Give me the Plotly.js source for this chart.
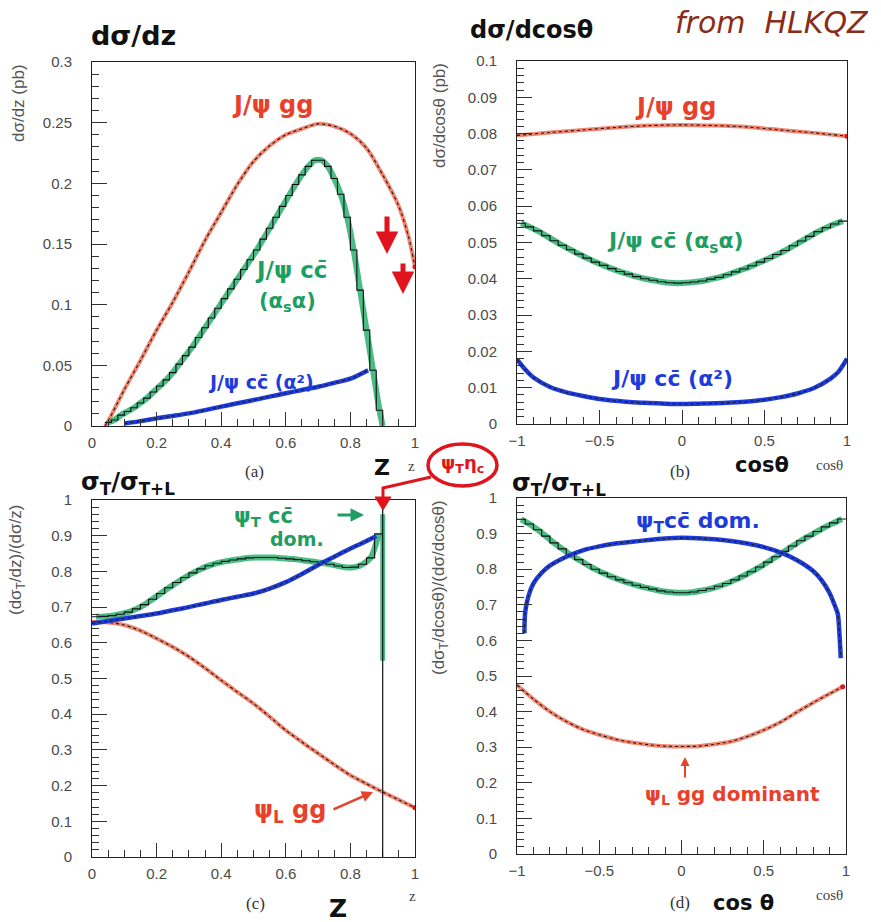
<!DOCTYPE html>
<html>
<head>
<meta charset="utf-8">
<script src="https://cdn.plot.ly/plotly-3.0.1.min.js"></script>
<style>
  html, body { margin: 0; padding: 0; background: #fff; }
  #chart { width: 881px; height: 922px; }
</style>
</head>
<body>
<div id="chart"></div>
<script>
// ---------- (a) dσ/dz ----------
const aGgZ   = [0.04, 0.05, 0.10, 0.15, 0.20, 0.25, 0.30, 0.35, 0.40, 0.45, 0.50, 0.55, 0.60, 0.65, 0.70, 0.75, 0.80, 0.85, 0.90, 0.95, 0.98, 1.00];
const aGgVal = [0.000, 0.004, 0.030, 0.054, 0.079, 0.102, 0.127, 0.153, 0.176, 0.199, 0.218, 0.231, 0.240, 0.245, 0.249, 0.247, 0.241, 0.229, 0.207, 0.181, 0.156, 0.131];

const aCcBinStart = 0.04, aCcBinWidth = 0.02;
const aCcAlphaS = [0.003, 0.005, 0.009, 0.012, 0.015, 0.019, 0.023, 0.028, 0.033, 0.038,
                   0.044, 0.051, 0.058, 0.065, 0.073, 0.081, 0.089, 0.097, 0.105, 0.113,
                   0.121, 0.129, 0.137, 0.145, 0.154, 0.163, 0.172, 0.181, 0.190, 0.199,
                   0.207, 0.214, 0.219, 0.219, 0.214, 0.204, 0.191, 0.172, 0.145, 0.112,
                   0.079, 0.046, 0.013];

const aAlpha2Z   = [0.10, 0.15, 0.20, 0.25, 0.30, 0.35, 0.40, 0.45, 0.50, 0.55, 0.60, 0.65, 0.70, 0.75, 0.80, 0.855];
const aAlpha2Val = [0.002, 0.004, 0.0063, 0.0083, 0.0104, 0.0131, 0.0160, 0.0187, 0.0214, 0.0242, 0.0270, 0.0297, 0.0324, 0.0356, 0.0390, 0.0460];

// ---------- (b) dσ/dcosθ ----------
const bGgCos = [-1.0, -0.8, -0.6, -0.4, -0.2, 0.0, 0.2, 0.4, 0.6, 0.8, 1.0];
const bGgVal = [0.0795, 0.0803, 0.0810, 0.0817, 0.0822, 0.0824, 0.0822, 0.0818, 0.0810, 0.0802, 0.0793];

const bCcBinStart = -1, bCcBinWidth = 0.05;
const bCcAlphaS = [0.0553, 0.0543, 0.0532, 0.0519, 0.0505, 0.0492, 0.0480, 0.0468, 0.0457, 0.0446,
                   0.0437, 0.0428, 0.0420, 0.0413, 0.0406, 0.0400, 0.0396, 0.0392, 0.0389, 0.0388,
                   0.0389, 0.0391, 0.0394, 0.0399, 0.0404, 0.0411, 0.0419, 0.0427, 0.0436, 0.0446,
                   0.0456, 0.0467, 0.0478, 0.0491, 0.0504, 0.0517, 0.0530, 0.0541, 0.0551, 0.0559];

const bAlpha2Cos = [-1.0, -0.95, -0.9, -0.8, -0.7, -0.6, -0.5, -0.4, -0.3, -0.2, -0.1, 0.0, 0.1, 0.2, 0.3, 0.4, 0.5, 0.6, 0.7, 0.8, 0.9, 0.95, 1.0];
const bAlpha2Val = [0.0178, 0.0150, 0.0128, 0.0102, 0.0087, 0.0077, 0.0069, 0.0064, 0.0060, 0.0058, 0.0056, 0.0055, 0.0056, 0.0057, 0.0059, 0.0062, 0.0067, 0.0074, 0.0084, 0.0099, 0.0125, 0.0145, 0.0180];

// ---------- (c) σT/σT+L versus z ----------
const cGgZ   = [0.00, 0.05, 0.10, 0.15, 0.20, 0.25, 0.30, 0.35, 0.40, 0.45, 0.50, 0.55, 0.60, 0.65, 0.70, 0.75, 0.80, 0.85, 0.90, 0.95, 1.00];
const cGgVal = [0.659, 0.657, 0.650, 0.634, 0.612, 0.588, 0.561, 0.529, 0.495, 0.462, 0.430, 0.393, 0.355, 0.322, 0.290, 0.259, 0.229, 0.205, 0.182, 0.160, 0.138];

const cCcBinStart = 0, cCcBinWidth = 0.025;
const cCcAlphaS = [0.673, 0.674, 0.676, 0.680, 0.686, 0.695, 0.707, 0.722, 0.738, 0.754,
                   0.769, 0.783, 0.796, 0.807, 0.816, 0.823, 0.828, 0.832, 0.835, 0.838,
                   0.839, 0.839, 0.839, 0.837, 0.835, 0.833, 0.830, 0.827, 0.824, 0.820,
                   0.815, 0.811, 0.812, 0.820, 0.838, 0.905];
const cEndpointZ   = [0.9, 0.9];
const cEndpointVal = [0.96, 0.55];
const zKinematicEnd = 0.9;

const cAlpha2Z   = [0.00, 0.05, 0.10, 0.15, 0.20, 0.25, 0.30, 0.35, 0.40, 0.45, 0.50, 0.55, 0.60, 0.65, 0.70, 0.75, 0.80, 0.85, 0.88];
const cAlpha2Val = [0.654, 0.661, 0.668, 0.675, 0.682, 0.691, 0.700, 0.710, 0.720, 0.729, 0.738, 0.752, 0.770, 0.793, 0.818, 0.841, 0.864, 0.885, 0.899];

// ---------- (d) σT/σT+L versus cosθ ----------
const dGgCos = [-1.0, -0.9, -0.8, -0.7, -0.6, -0.5, -0.4, -0.3, -0.2, -0.1, 0.0, 0.1, 0.2, 0.3, 0.4, 0.5, 0.6, 0.7, 0.8, 0.9, 0.98];
const dGgVal = [0.475, 0.435, 0.400, 0.372, 0.350, 0.335, 0.322, 0.313, 0.307, 0.303, 0.302, 0.303, 0.308, 0.316, 0.330, 0.348, 0.370, 0.398, 0.425, 0.450, 0.470];

const dCcBinStart = -1, dCcBinWidth = 0.05;
const dCcAlphaS = [0.940, 0.927, 0.911, 0.893, 0.874, 0.857, 0.841, 0.827, 0.813, 0.800,
                   0.789, 0.779, 0.770, 0.762, 0.755, 0.749, 0.744, 0.739, 0.736, 0.734,
                   0.734, 0.736, 0.740, 0.745, 0.752, 0.760, 0.770, 0.781, 0.793, 0.806,
                   0.820, 0.835, 0.850, 0.865, 0.880, 0.893, 0.906, 0.919, 0.930, 0.941];

const dAlpha2Cos = [-0.955, -0.95, -0.93, -0.9, -0.85, -0.8, -0.7, -0.6, -0.5, -0.4, -0.3, -0.2, -0.1, 0.0, 0.1, 0.2, 0.3, 0.4, 0.5, 0.6, 0.7, 0.8, 0.85, 0.9, 0.93, 0.95, 0.96, 0.968];
const dAlpha2Val = [0.62, 0.68, 0.725, 0.76, 0.79, 0.81, 0.835, 0.853, 0.864, 0.872, 0.877, 0.882, 0.886, 0.888, 0.887, 0.884, 0.879, 0.872, 0.862, 0.847, 0.826, 0.795, 0.77, 0.733, 0.70, 0.675, 0.62, 0.55];

// ---------- styling ----------
const RED_LINE = '#f2836d';
const RED_INK = '#e8402a';
const RED_ARROW = '#e0141c';
const GREEN_INK = 'rgba(44,176,112,0.85)';
const GREEN_TEXT = '#1f9e62';
const BLUE_INK = '#1e3cdc';
const BROWN_INK = '#8a2c16';

const W = 881, H = 922;
const px = x => x / W;
const py = y => 1 - y / H;

function binEdges(start, width, n) {
  const e = [];
  for (let i = 0; i <= n; i++) e.push(+(start + i * width).toFixed(4));
  return e;
}
function binCenters(start, width, n) {
  const c = [];
  for (let i = 0; i < n; i++) c.push(+(start + (i + 0.5) * width).toFixed(4));
  return c;
}

function smoothLine(x, y, color, width, xa, ya) {
  return { x, y, xaxis: xa, yaxis: ya, mode: 'lines', hoverinfo: 'skip',
           line: { color, width, shape: 'spline', smoothing: 0.8 } };
}
function dotted(x, y, xa, ya) {
  return { x, y, xaxis: xa, yaxis: ya, mode: 'lines', hoverinfo: 'skip',
           line: { color: '#1a1a1a', width: 1.1, dash: 'dot', shape: 'spline', smoothing: 0.8 } };
}
function steps(start, width, vals, tailVal, xa, ya) {
  const x = binEdges(start, width, vals.length);
  const y = vals.concat([tailVal]);
  return { x, y, xaxis: xa, yaxis: ya, mode: 'lines', hoverinfo: 'skip',
           line: { color: '#111', width: 1.1, shape: 'hv' } };
}
function endDot(x, y, xa, ya) {
  return { x: [x[x.length - 1]], y: [y[y.length - 1]], xaxis: xa, yaxis: ya, mode: 'markers',
           hoverinfo: 'skip', marker: { color: RED_ARROW, size: 5 } };
}

const traces = [];

// (a)
const aCenters = binCenters(aCcBinStart, aCcBinWidth, aCcAlphaS.length);
const aEnd = +(aCcBinStart + aCcAlphaS.length * aCcBinWidth).toFixed(4);
traces.push(smoothLine(aGgZ, aGgVal, RED_LINE, 4, 'x', 'y'));
traces.push(dotted(aGgZ, aGgVal, 'x', 'y'));
traces.push(endDot(aGgZ, aGgVal, 'x', 'y'));
traces.push(smoothLine(aCenters.concat([aEnd]), aCcAlphaS.concat([0]), GREEN_INK, 6, 'x', 'y'));
traces.push(steps(aCcBinStart, aCcBinWidth, aCcAlphaS, 0, 'x', 'y'));
traces.push(smoothLine(aAlpha2Z, aAlpha2Val, BLUE_INK, 4.5, 'x', 'y'));
traces.push(dotted(aAlpha2Z, aAlpha2Val, 'x', 'y'));

// (b)
const bCenters = binCenters(bCcBinStart, bCcBinWidth, bCcAlphaS.length);
traces.push(smoothLine(bGgCos, bGgVal, RED_LINE, 4, 'x2', 'y2'));
traces.push(dotted(bGgCos, bGgVal, 'x2', 'y2'));
traces.push(endDot(bGgCos, bGgVal, 'x2', 'y2'));
traces.push(smoothLine(bCenters, bCcAlphaS, GREEN_INK, 6, 'x2', 'y2'));
traces.push(steps(bCcBinStart, bCcBinWidth, bCcAlphaS, bCcAlphaS[bCcAlphaS.length - 1], 'x2', 'y2'));
traces.push(smoothLine(bAlpha2Cos, bAlpha2Val, BLUE_INK, 4.5, 'x2', 'y2'));
traces.push(dotted(bAlpha2Cos, bAlpha2Val, 'x2', 'y2'));

// (c)
const cCenters = binCenters(cCcBinStart, cCcBinWidth, cCcAlphaS.length);
traces.push(smoothLine(cGgZ, cGgVal, RED_LINE, 4, 'x3', 'y3'));
traces.push(dotted(cGgZ, cGgVal, 'x3', 'y3'));
traces.push(endDot(cGgZ, cGgVal, 'x3', 'y3'));
traces.push(smoothLine(cCenters, cCcAlphaS, GREEN_INK, 6, 'x3', 'y3'));
traces.push({ x: cEndpointZ, y: cEndpointVal, xaxis: 'x3', yaxis: 'y3', mode: 'lines', hoverinfo: 'skip',
              line: { color: GREEN_INK, width: 5 } });
traces.push(steps(cCcBinStart, cCcBinWidth, cCcAlphaS, cCcAlphaS[cCcAlphaS.length - 1], 'x3', 'y3'));
traces.push(smoothLine(cAlpha2Z, cAlpha2Val, BLUE_INK, 4.5, 'x3', 'y3'));
traces.push(dotted(cAlpha2Z, cAlpha2Val, 'x3', 'y3'));

// (d)
const dCenters = binCenters(dCcBinStart, dCcBinWidth, dCcAlphaS.length);
traces.push(smoothLine(dGgCos, dGgVal, RED_LINE, 4, 'x4', 'y4'));
traces.push(dotted(dGgCos, dGgVal, 'x4', 'y4'));
traces.push(endDot(dGgCos, dGgVal, 'x4', 'y4'));
traces.push(smoothLine(dCenters, dCcAlphaS, GREEN_INK, 6, 'x4', 'y4'));
traces.push(steps(dCcBinStart, dCcBinWidth, dCcAlphaS, dCcAlphaS[dCcAlphaS.length - 1], 'x4', 'y4'));
traces.push(smoothLine(dAlpha2Cos, dAlpha2Val, BLUE_INK, 4.5, 'x4', 'y4'));
traces.push(dotted(dAlpha2Cos, dAlpha2Val, 'x4', 'y4'));

// ---------- axes ----------
const tickFont = { family: 'Liberation Sans, Arial, sans-serif', size: 15, color: '#4a4a4a' };
function xAxis(domain, range, dtick, minor, anchor) {
  return { domain: [px(domain[0]), px(domain[1])], range, anchor, dtick, tick0: range[0],
           ticks: 'inside', ticklen: 14, tickwidth: 1, tickcolor: '#333',
           minor: { dtick: minor, ticks: 'inside', ticklen: 7, tickcolor: '#333', tickwidth: 1 },
           showline: true, linecolor: '#222', linewidth: 1, mirror: true,
           showgrid: false, zeroline: false, tickfont: tickFont, ticklabelstandoff: 3,
           fixedrange: true };
}
function yAxis(domain, range, dtick, minor, anchor) {
  return { domain: [py(domain[1]), py(domain[0])], range, anchor, dtick, tick0: 0,
           ticks: 'inside', ticklen: 15, tickwidth: 1, tickcolor: '#333',
           minor: { dtick: minor, ticks: 'inside', ticklen: 7, tickcolor: '#333', tickwidth: 1 },
           showline: true, linecolor: '#222', linewidth: 1, mirror: true,
           showgrid: false, zeroline: false, tickfont: tickFont, ticklabelstandoff: 16,
           fixedrange: true };
}

// ---------- annotations ----------
const HAND = 'DejaVu Sans, Noto Sans, sans-serif';
const SERIF = 'Liberation Serif, Times New Roman, serif';
const SANS = 'Liberation Sans, Arial, sans-serif';
function note(x, y, text, size, color, extra) {
  const font = Object.assign({ family: HAND, size, color }, (extra && extra.font) || {});
  const opts = Object.assign({}, extra || {});
  delete opts.font;
  return Object.assign({ x: px(x), y: py(y), xref: 'paper', yref: 'paper', text, showarrow: false,
           xanchor: 'center', yanchor: 'middle', font }, opts);
}
function arrow(hx, hy, tx, ty, color, width) {
  return { x: px(hx), y: py(hy), xref: 'paper', yref: 'paper', ax: tx - hx, ay: ty - hy,
           axref: 'pixel', ayref: 'pixel', text: '', showarrow: true,
           arrowhead: 2, arrowsize: 0.9, arrowwidth: width, arrowcolor: color };
}
const BOLD = { font: { weight: 'bold' } };
const SEMI = { font: { weight: 600 } };
const AXTITLE = { textangle: -90, font: { family: SANS } };

const annotations = [
  // panel headings
  note(133, 36, 'dσ/dz', 27, '#111', BOLD),
  note(531, 30, 'dσ/dcosθ', 24, '#111', BOLD),
  note(772, 22, 'from  HLKQZ', 30, BROWN_INK, { font: { style: 'italic' } }),
  note(128, 483, 'σ<sub>T</sub>/σ<sub>T+L</sub>', 24, '#111', BOLD),
  note(559, 484, 'σ<sub>T</sub>/σ<sub>T+L</sub>', 24, '#111', BOLD),

  // printed axis titles
  note(18, 103, 'dσ/dz (pb)', 17, '#555', AXTITLE),
  note(440, 116, 'dσ/dcosθ (pb)', 17, '#555', AXTITLE),
  note(17, 560, '(dσ<sub>T</sub>/dz)/(dσ/z)', 17, '#555', AXTITLE),
  note(440, 588, '(dσ<sub>T</sub>/dcosθ)/(dσ/dcosθ)', 17, '#555', AXTITLE),

  // panel tags and axis names
  note(254, 471, '(a)', 17, '#333', { font: { family: SERIF } }),
  note(411, 466, 'z', 15, '#444', { font: { family: SERIF } }),
  note(680, 471, '(b)', 17, '#333', { font: { family: SERIF } }),
  note(829, 465, 'cosθ', 15, '#444', { font: { family: SERIF } }),
  note(255, 903, '(c)', 17, '#333', { font: { family: SERIF } }),
  note(412, 896, 'z', 15, '#444', { font: { family: SERIF } }),
  note(680, 902, '(d)', 17, '#333', { font: { family: SERIF } }),
  note(829, 895, 'cosθ', 15, '#444', { font: { family: SERIF } }),

  // handwritten axis names
  note(382, 467, 'Z', 22, '#111', BOLD),
  note(338, 908, 'Z', 25, '#111', BOLD),
  note(762, 465, 'cosθ', 21, '#111', BOLD),
  note(743, 903, 'cos θ', 21, '#111', BOLD),

  // curve labels, panel (a)
  note(272, 105, 'J/ψ gg', 24, RED_INK, SEMI),
  note(291, 270, 'J/ψ cc̄', 23, GREEN_TEXT, SEMI),
  note(287, 302, '(α<sub>s</sub>α)', 21, GREEN_TEXT, SEMI),
  note(261, 382, 'J/ψ cc̄ (α²)', 19, BLUE_INK, SEMI),
  arrow(387, 254, 387, 215, RED_ARROW, 5),
  arrow(403, 294, 403, 262, RED_ARROW, 5),

  // curve labels, panel (b)
  note(675, 107, 'J/ψ gg', 24, RED_INK, SEMI),
  note(675, 242, 'J/ψ cc̄ (α<sub>s</sub>α)', 22, GREEN_TEXT, SEMI),
  note(672, 378, 'J/ψ cc̄ (α²)', 22, BLUE_INK, SEMI),

  // panel (c)
  note(263, 517, 'ψ<sub>T</sub> cc̄', 21, GREEN_TEXT, BOLD),
  note(297, 539, 'dom.', 19, GREEN_TEXT, BOLD),
  arrow(364, 515, 336, 515, GREEN_TEXT, 3),
  note(290, 811, 'ψ<sub>L</sub> gg', 24, RED_INK, SEMI),
  arrow(373, 792, 332, 810, RED_INK, 2.5),
  note(462, 464, 'ψ<sub>T</sub>η<sub>c</sub>', 18, RED_ARROW, BOLD),

  // panel (d)
  note(698, 522, 'ψ<sub>T</sub>cc̄ dom.', 22, BLUE_INK, BOLD),
  arrow(685, 757, 685, 779, RED_INK, 2),
  note(732, 795, 'ψ<sub>L</sub> gg dominant', 20, RED_INK, SEMI)
];

// ---------- shapes ----------
const shapes = [
  // kinematic endpoint of the histogram in (c)
  { type: 'line', xref: 'x3', yref: 'y3', x0: zKinematicEnd, x1: zKinematicEnd, y0: 0, y1: 1,
    line: { color: '#111', width: 1.2 } },
  // circled ψTηc tag and its pointer to the endpoint
  { type: 'circle', xref: 'paper', yref: 'paper', x0: px(428), x1: px(497), y0: py(486), y1: py(444),
    line: { color: RED_ARROW, width: 3.5 } },
  { type: 'path', xref: 'paper', yref: 'paper',
    path: `M ${px(431)} ${py(477)} L ${px(383)} ${py(488)} L ${px(383)} ${py(498)}`,
    line: { color: RED_ARROW, width: 3 } },
  { type: 'path', xref: 'paper', yref: 'paper',
    path: `M ${px(375)} ${py(497)} L ${px(391)} ${py(497)} L ${px(383)} ${py(510)} Z`,
    fillcolor: RED_ARROW, line: { color: RED_ARROW, width: 1 } }
];

const layout = {
  width: W, height: H,
  margin: { l: 0, r: 0, t: 0, b: 0 },
  paper_bgcolor: '#fff', plot_bgcolor: '#fff',
  showlegend: false,
  xaxis:  xAxis([92, 415], [0, 1], 0.2, 0.05, 'y'),
  yaxis:  yAxis([62, 426], [0, 0.3], 0.05, 0.01, 'x'),
  xaxis2: xAxis([517, 847], [-1, 1], 0.5, 0.1, 'y2'),
  yaxis2: yAxis([61, 424], [0, 0.1], 0.01, 0.002, 'x2'),
  xaxis3: xAxis([92, 415], [0, 1], 0.2, 0.05, 'y3'),
  yaxis3: yAxis([500, 857], [0, 1], 0.1, 0.02, 'x3'),
  xaxis4: xAxis([517, 846], [-1, 1], 0.5, 0.1, 'y4'),
  yaxis4: yAxis([498, 854], [0, 1], 0.1, 0.02, 'x4'),
  annotations, shapes
};

Plotly.newPlot('chart', traces, layout, { displayModeBar: false, staticPlot: true });
</script>
</body>
</html>
